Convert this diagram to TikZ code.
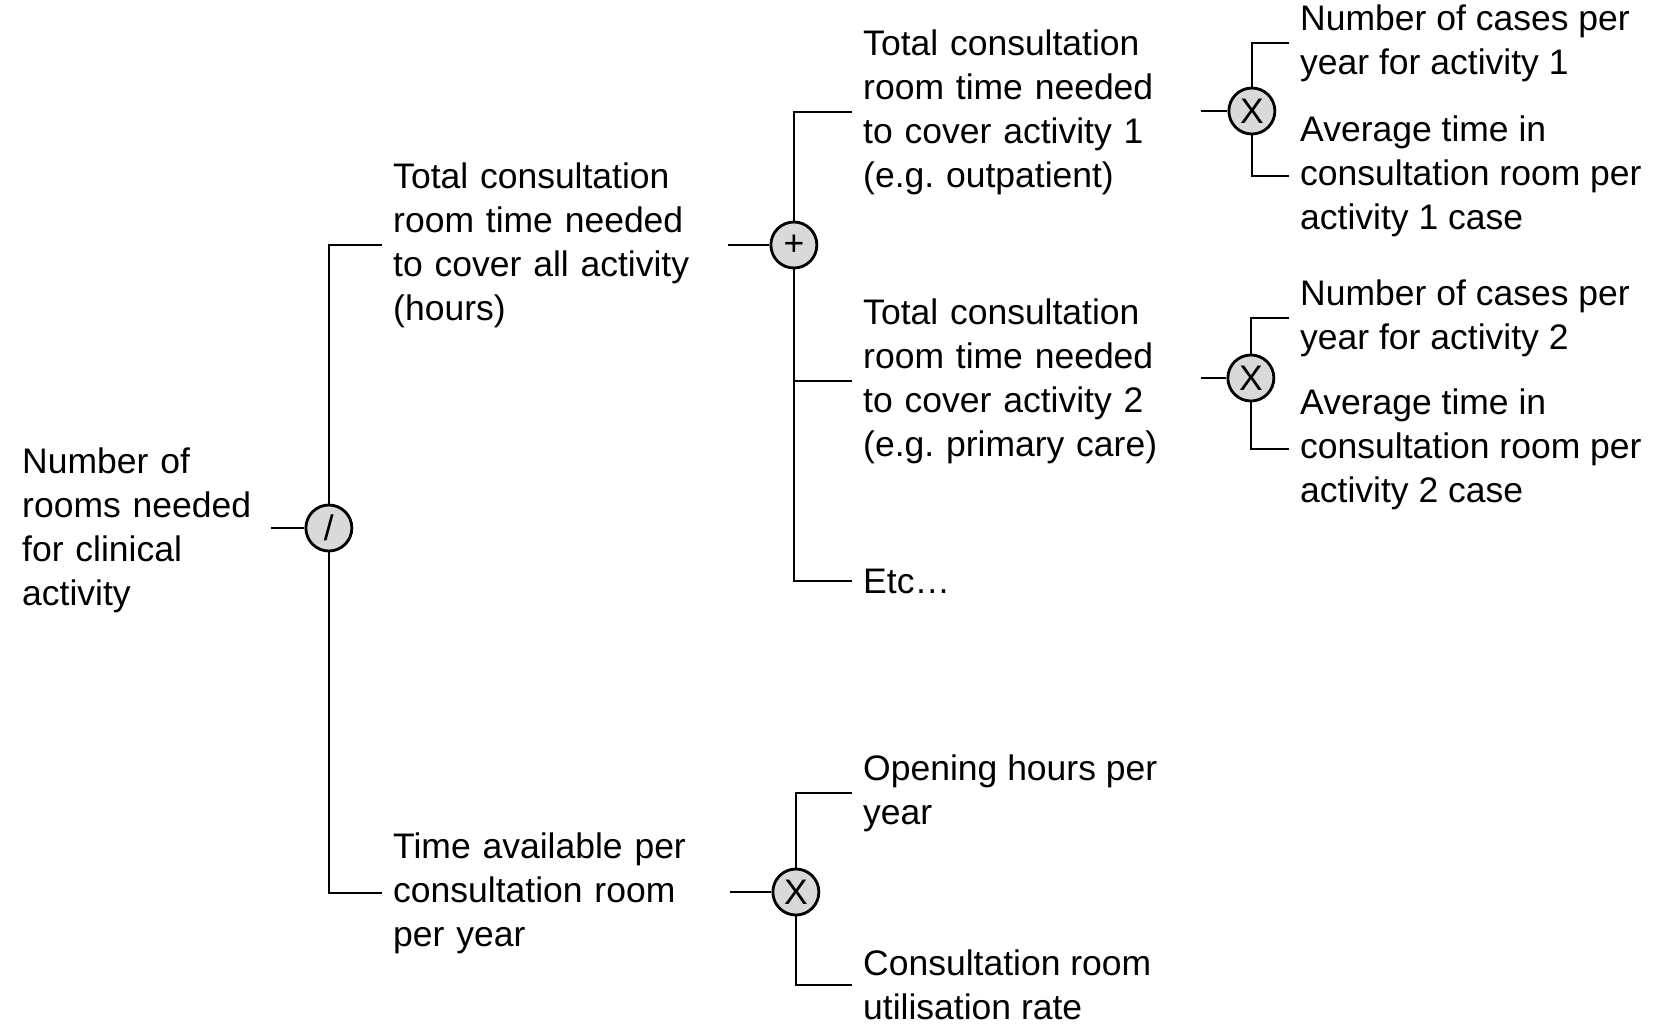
\documentclass[tikz,border=0pt]{standalone}
\usepackage{fontspec}
\setmainfont{Liberation Sans}
\usepackage{tikz}
\usetikzlibrary{positioning}
\frenchspacing

\begin{document}
\begin{tikzpicture} [node distance = 0.4cm, line width = 0.7pt]
            % Set primary nodes
            \tikzset{
                label/.style={
                        anchor = west,
                        align = left,
                        inner xsep = 0.1cm,
                        inner ysep = 0pt,
                        font = \fontsize{10.1pt}{12.5pt}\selectfont
                    }
            }
            \tikzset{
                parentLabel/.style={
                        label,
                        text width = #1
                    }
            }
            \tikzset{
                opNode/.style={
                        draw,
                        circle,
                        line width = 0.8pt,
                        fill = gray!30,
                        inner sep = 0pt,
                        minimum size = 0.46cm,
                        font = \fontsize{10.1pt}{12.5pt}\selectfont
                    }
            }
            \useasboundingbox (0,0) rectangle (16.54,-10.24);
            % Placing nodes
            \node[parentLabel = 2.38cm] (rooms) at (0.11,-5.30)
                {Number of\\rooms needed\\for clinical\\activity};
            \node[opNode, right = 0.33cm of rooms, yshift = 0.02cm] (div) {/};

            \node[parentLabel = 3.24cm] (totalTime) at (3.82,-2.45)
                {Total consultation\\room time needed\\to cover all activity\\(hours)};
            \node[parentLabel = 3.26cm] (availTime) at (3.82,-8.93)
                {Time available per\\consultation room\\per year};
            \node[opNode, right = 0.41cm of totalTime] (sum) {+};
            \node[opNode, right = 0.41cm of availTime, yshift = 0.01cm] (timesHours) {X};

            \node[parentLabel = 3.27cm] (activityOne) at (8.52,-1.12)
                {Total consultation\\room time needed\\to cover activity 1\\(e.g. outpatient)};
            \node[parentLabel = 3.27cm] (activityTwo) at (8.52,-3.81)
                {Total consultation\\room time needed\\to cover activity 2\\(e.g. primary care)};
            \node[label] (etc) at (8.52,-5.81) {Etc…};
            \node[label] (openHours) at (8.52,-7.93) {Opening hours per\\year};
            \node[label] (utilRate) at (8.52,-9.85) {Consultation room\\utilisation rate};
            \node[opNode, right = 0.26cm of activityOne, yshift = 0.01cm] (timesOne) {X};
            \node[opNode, right = 0.25cm of activityTwo, yshift = 0.03cm] (timesTwo) {X};

            \node[label] (casesOne) at (12.89,-0.43) {Number of cases per\\year for activity 1};
            \node[label] (avgOne) at (12.89,-1.76)
                {Average time in\\consultation room per\\activity 1 case};
            \node[label] (casesTwo) at (12.89,-3.18) {Number of cases per\\year for activity 2};
            \node[label] (avgTwo) at (12.89,-4.49)
                {Average time in\\consultation room per\\activity 2 case};
            % Placing lines
            \draw (div.west) -- (div.west -| rooms.east);
            \draw (div.north) |- (totalTime.west);
            \draw (div.south) |- (availTime.west);

            \draw (sum.west) -- (sum.west -| totalTime.east);
            \draw (sum.north) |- (activityOne.west);
            \draw (sum.south) |- (activityTwo.west);
            \draw (sum.south) |- (etc.west);

            \draw (timesHours.west) -- (timesHours.west -| availTime.east);
            \draw (timesHours.north) |- (openHours.west);
            \draw (timesHours.south) |- (utilRate.west);

            \draw (timesOne.west) -- (timesOne.west -| activityOne.east);
            \draw (timesOne.north) |- (casesOne.west);
            \draw (timesOne.south) |- (avgOne.west);

            \draw (timesTwo.west) -- (timesTwo.west -| activityTwo.east);
            \draw (timesTwo.north) |- (casesTwo.west);
            \draw (timesTwo.south) |- (avgTwo.west);
        \end{tikzpicture}
\end{document}
